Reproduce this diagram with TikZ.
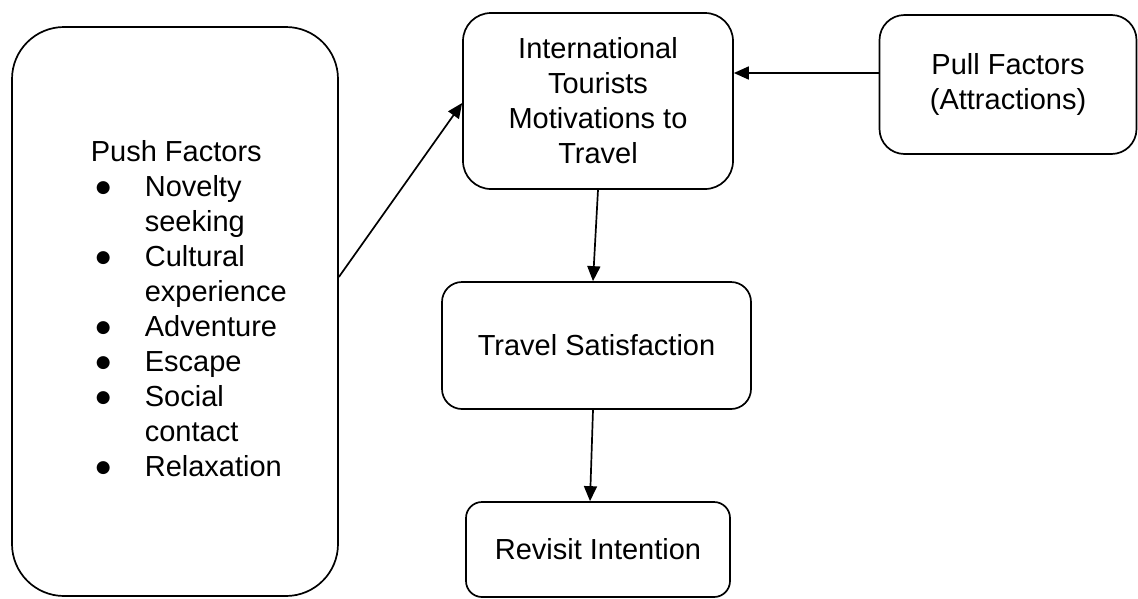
\documentclass[tikz,border=0pt]{standalone}
\usepackage{fontspec}
\setmainfont{Liberation Sans}
\newfontfamily\dejavu{DejaVu Sans}
\usetikzlibrary{arrows.meta}
\newcommand{\pushitem}{\hspace*{5pt}\raisebox{4pt}{\dejavu\fontsize{17}{20}\selectfont ●}}
\begin{document}
\begin{tikzpicture}[x=1pt, y=-1pt, line width=1.7pt,
		>={Triangle[length=15pt, width=13pt]},
		box/.style={draw, align=center, inner sep=0pt, font=\fontsize{29}{35}\selectfont},
		txt/.style={inner sep=0pt, font=\fontsize{29}{35}\selectfont}]
	\useasboundingbox (0,0) rectangle (1138,598);
	% boxes
	\node[box, rounded corners=52pt, minimum width=326pt, minimum height=569pt] (push) at (175,311.5) {};
	\node[txt, anchor=west] (pushtxt) at (90,312) {%
		\begin{tabular}{@{}p{54pt}@{}l@{}}
			\multicolumn{2}{@{}l@{}}{Push Factors}\\
			\pushitem & Novelty\\
			& seeking\\
			\pushitem & Cultural\\
			& experience\\
			\pushitem & Adventure\\
			\pushitem & Escape\\
			\pushitem & Social\\
			& contact\\
			\pushitem & Relaxation
		\end{tabular}};
	\node[box, rounded corners=28pt, minimum width=270pt, minimum height=176pt] (intl) at (598,101) {International\\Tourists\\Motivations to\\Travel};
	\node[box, rounded corners=25pt, minimum width=257pt, minimum height=139pt] (pull) at (1008,84.5) {Pull Factors\\(Attractions)};
	\node[box, rounded corners=20pt, minimum width=309pt, minimum height=127pt] (sat) at (596.5,345.5) {Travel Satisfaction};
	\node[box, rounded corners=16pt, minimum width=264pt, minimum height=95pt] (rev) at (598,549.5) {Revisit Intention};
	% arrows
	\draw[->] ([yshift=34.5pt]push.east) -- ([yshift=-2pt]intl.west);
	\draw[->] ([yshift=11.5pt]pull.west) -- ([yshift=28pt]intl.east);
	\draw[->] (intl.south) -- ([xshift=-3.5pt]sat.north);
	\draw[->] ([xshift=-3.5pt]sat.south) -- ([xshift=-8pt]rev.north);
\end{tikzpicture}
\end{document}
